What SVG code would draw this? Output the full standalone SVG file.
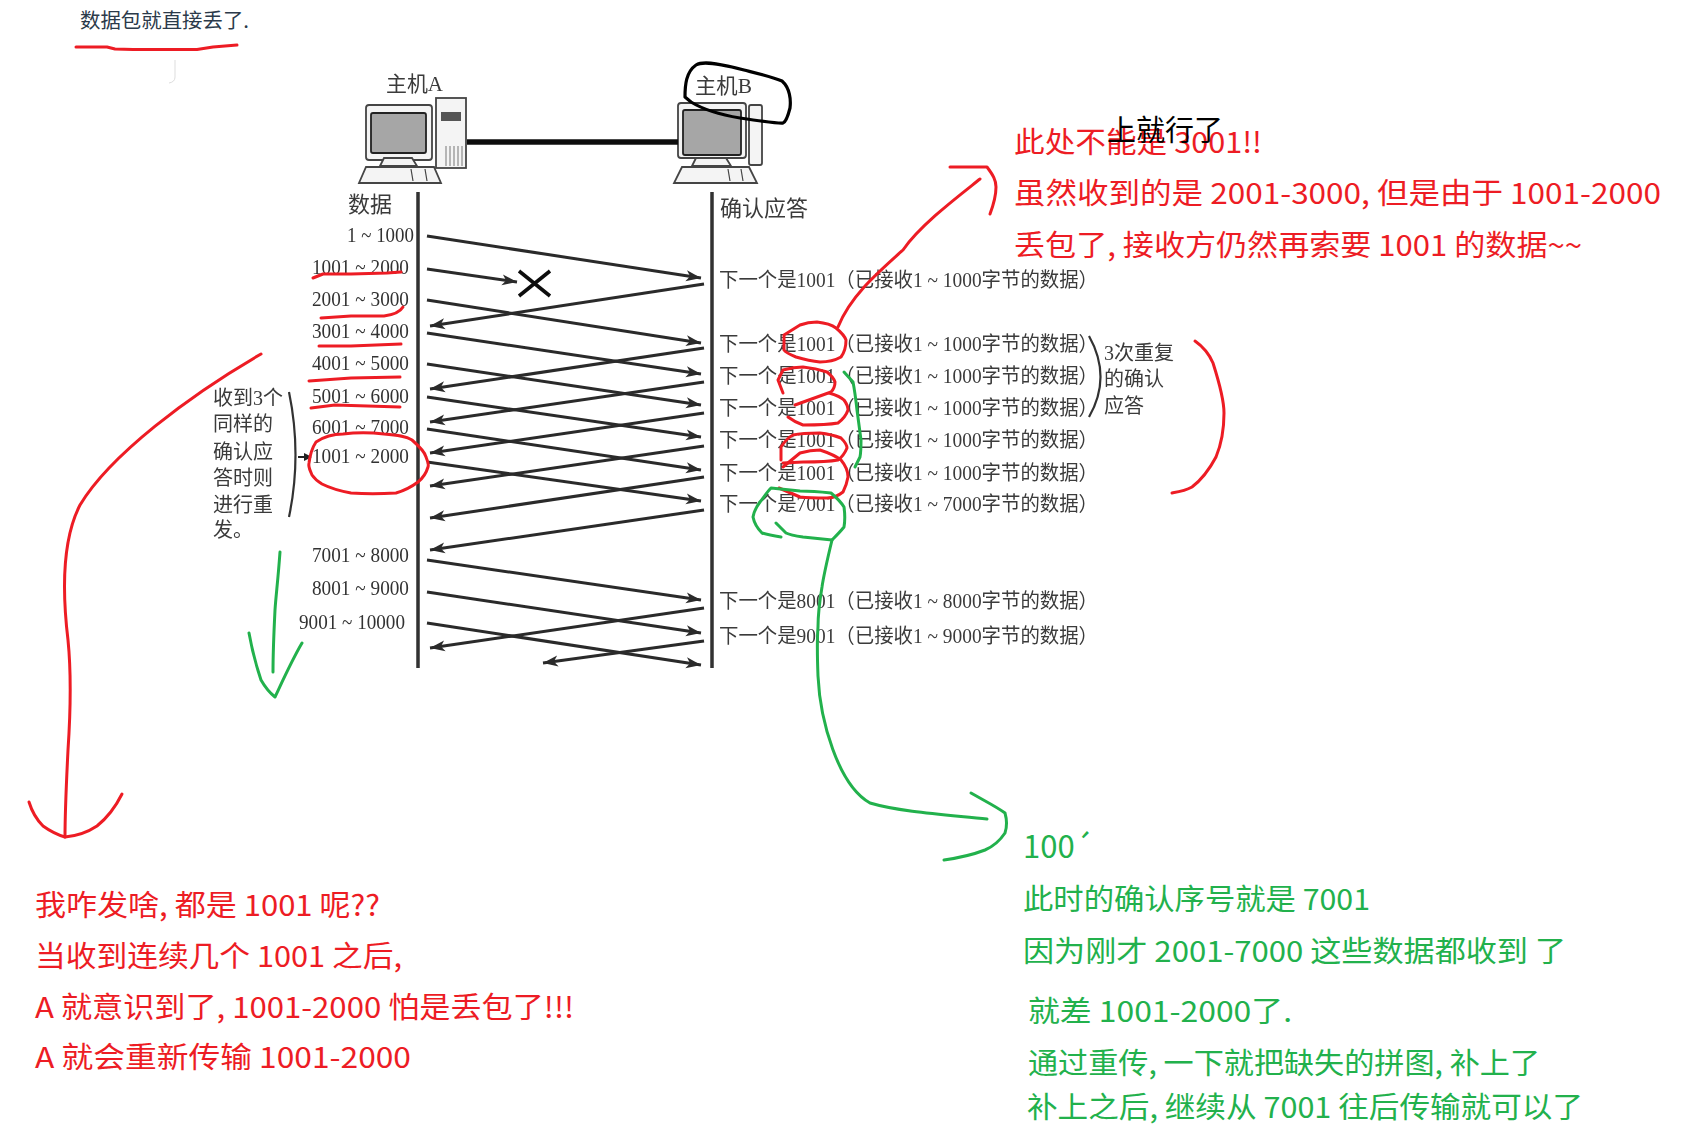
<svg xmlns="http://www.w3.org/2000/svg" width="1683" height="1139" viewBox="0 0 1683 1139">
<style>
text{font-family:"Liberation Serif","Noto Sans CJK SC",serif}
.bk{fill:#333;font-size:21px}
.h{fill:#3a3a3a;font-size:20px}
.ar{fill:#3a3a3a;font-size:20px;white-space:pre}
.note{font-family:"Noto Sans CJK SC","Noto Sans",sans-serif;font-size:29px;white-space:pre}
.r{fill:#ed1c24}.g{fill:#22b14c}
.rs,.gs,.ks{fill:none;stroke-linecap:round;stroke-linejoin:round;stroke-width:3}
.rs{stroke:#ed1c24}.gs{stroke:#22b14c}.ks{stroke:#000;stroke-width:3.2}
.ax{stroke:#333;stroke-width:3.5;fill:none}
.f{stroke:#2a2a2a;stroke-width:3;fill:none;marker-end:url(#ah)}
.mon{fill:#f4f4f4;stroke:#444;stroke-width:1.8}
.scr{fill:#a6a6a6;stroke:#222;stroke-width:1.8}
</style>
<defs>
<filter id="b" x="-5%" y="-5%" width="110%" height="110%"><feGaussianBlur stdDeviation="0.55"/></filter>
<marker id="ah" markerUnits="userSpaceOnUse" markerWidth="16" markerHeight="12" refX="15" refY="6" orient="auto"><path d="M15 6 0 0.5 4 6 0 11.5Z" fill="#2a2a2a"/></marker>
</defs>
<g filter="url(#b)">
<g id="hostA">
<rect class="mon" x="436" y="98" width="30" height="70"/>
<rect x="441" y="112" width="20" height="9" fill="#555"/>
<path d="M446 146V166M450 146V166M454 146V166M458 146V166M462 146V166" stroke="#777" stroke-width="1"/>
<rect class="mon" x="366" y="105" width="66" height="55" rx="3"/>
<rect class="scr" x="371" y="113" width="55" height="40" rx="2"/>
<path class="mon" d="M380 166 384 158H412L417 166Z"/>
<path class="mon" d="M366 167H434L441 183H359Z"/>
<path d="M411 169 413 181M425 169 427 181" stroke="#444" stroke-width="1.2"/>
<text class="h" x="386" y="91" style="font-size:21px" textLength="57" lengthAdjust="spacingAndGlyphs">主机A</text>
</g>
<g id="hostB">
<rect class="mon" x="749" y="105" width="13" height="60" rx="2"/>
<rect class="mon" x="678" y="103" width="68" height="55" rx="3"/>
<rect class="scr" x="683" y="110" width="58" height="45" rx="2"/>
<path class="mon" d="M692 166 696 158H726L731 166Z"/>
<path class="mon" d="M682 167H749L757 183H674Z"/>
<path d="M728 169 730 181M741 169 743 181" stroke="#444" stroke-width="1.2"/>
<text class="h" x="695" y="93" style="font-size:21px" textLength="57" lengthAdjust="spacingAndGlyphs">主机B</text>
</g>
<g id="axes">
<path d="M467 142H678" stroke="#111" stroke-width="5.5"/>
<path class="ax" d="M418 192V668M712 192V668"/>
<text class="h" x="348" y="212" style="font-size:22px">数据</text>
<text class="h" x="720" y="216" style="font-size:22px">确认应答</text>
</g>
<g id="data-labels" class="bk">
<text x="347" y="242" textLength="67" lengthAdjust="spacingAndGlyphs">1 ~ 1000</text>
<text x="312" y="274" textLength="97" lengthAdjust="spacingAndGlyphs">1001 ~ 2000</text>
<text x="312" y="306" textLength="97" lengthAdjust="spacingAndGlyphs">2001 ~ 3000</text>
<text x="312" y="338" textLength="97" lengthAdjust="spacingAndGlyphs">3001 ~ 4000</text>
<text x="312" y="370" textLength="97" lengthAdjust="spacingAndGlyphs">4001 ~ 5000</text>
<text x="312" y="403" textLength="97" lengthAdjust="spacingAndGlyphs">5001 ~ 6000</text>
<text x="312" y="434" textLength="97" lengthAdjust="spacingAndGlyphs">6001 ~ 7000</text>
<text x="312" y="463" textLength="97" lengthAdjust="spacingAndGlyphs">1001 ~ 2000</text>
<text x="312" y="562" textLength="97" lengthAdjust="spacingAndGlyphs">7001 ~ 8000</text>
<text x="312" y="595" textLength="97" lengthAdjust="spacingAndGlyphs">8001 ~ 9000</text>
<text x="299" y="629" textLength="106" lengthAdjust="spacingAndGlyphs">9001 ~ 10000</text>
</g>
<g id="ack-labels" class="ar">
<text x="719" y="287" textLength="379" lengthAdjust="spacingAndGlyphs">下一个是1001（已接收1 ~ 1000字节的数据）</text>
<text x="719" y="351" textLength="379" lengthAdjust="spacingAndGlyphs">下一个是1001（已接收1 ~ 1000字节的数据）</text>
<text x="719" y="383" textLength="379" lengthAdjust="spacingAndGlyphs">下一个是1001（已接收1 ~ 1000字节的数据）</text>
<text x="719" y="415" textLength="379" lengthAdjust="spacingAndGlyphs">下一个是1001（已接收1 ~ 1000字节的数据）</text>
<text x="719" y="447" textLength="379" lengthAdjust="spacingAndGlyphs">下一个是1001（已接收1 ~ 1000字节的数据）</text>
<text x="719" y="480" textLength="379" lengthAdjust="spacingAndGlyphs">下一个是1001（已接收1 ~ 1000字节的数据）</text>
<text x="719" y="511" textLength="379" lengthAdjust="spacingAndGlyphs">下一个是7001（已接收1 ~ 7000字节的数据）</text>
<text x="719" y="608" textLength="379" lengthAdjust="spacingAndGlyphs">下一个是8001（已接收1 ~ 8000字节的数据）</text>
<text x="719" y="643" textLength="379" lengthAdjust="spacingAndGlyphs">下一个是9001（已接收1 ~ 9000字节的数据）</text>
</g>
<g id="side-notes" class="h">
<text x="213" y="405">收到3个</text>
<text x="213" y="431">同样的</text>
<text x="213" y="459">确认应</text>
<text x="213" y="485">答时则</text>
<text x="213" y="512">进行重</text>
<text x="213" y="537">发。</text>
<path d="M289 392Q302 455 289 517" fill="none" stroke="#333" stroke-width="2.2"/>
<path d="M298 457H311" fill="none" stroke="#222" stroke-width="2"/>
<path d="M312 457 304 453V461Z" fill="#222"/>
<text x="1104" y="360">3次重复</text>
<text x="1104" y="386">的确认</text>
<text x="1104" y="413">应答</text>
<path d="M1089 336Q1112 377 1089 417" fill="none" stroke="#333" stroke-width="2.2"/>
</g>
<g id="connectors">
<path class="f" d="M427 236 701 278"/>
<path class="f" d="M427 269 517 282"/>
<path class="f" d="M427 300 701 343"/>
<path class="f" d="M427 333 701 374"/>
<path class="f" d="M427 364 701 405"/>
<path class="f" d="M427 397 701 437"/>
<path class="f" d="M427 429 701 470"/>
<path class="f" d="M427 462 701 501"/>
<path class="f" d="M427 560 701 600"/>
<path class="f" d="M427 592 701 633"/>
<path class="f" d="M427 623 701 665"/>
<path class="f" d="M704 284 430 326"/>
<path class="f" d="M704 348 430 389"/>
<path class="f" d="M704 382 430 422"/>
<path class="f" d="M704 413 430 453"/>
<path class="f" d="M704 446 430 486"/>
<path class="f" d="M704 477 430 518"/>
<path class="f" d="M704 510 430 550"/>
<path class="f" d="M704 608 430 648"/>
<path class="f" d="M704 641 543 663"/>
<path d="M519 271 550 296M550 271 519 296" stroke="#111" stroke-width="3.6" fill="none"/>
</g>
</g>
<g id="top-note">
<text x="80" y="28" font-size="20" fill="#2b3a4a" style="font-family:'Noto Sans CJK SC',sans-serif" textLength="169" lengthAdjust="spacingAndGlyphs">数据包就直接丢了.</text>
<path class="rs" d="M76 47 107 47 115 49 133 49.500 197 49.500 213 47 237 45"/>
<path d="M175 60V77Q175 82 169 83" fill="none" stroke="#ddd" stroke-width="1"/>
</g>
<g id="hand-marks">
<path class="ks" d="M685 97C685 85 686 72 696 65C704 60 725 65 744 70C760 74 773 77 782 81C790 88 791 100 790 108C788 116 786 122 783 123C780 124 760 121 740 118C722 115 704 110 691 102Z"/>
<path class="rs" d="M313 278 323 274 351 274 387 273 401 272"/>
<path class="rs" d="M321 318 351 316 384 316C392 315 400 312 403 307"/>
<path class="rs" d="M319 346 351 346 401 344"/>
<path class="rs" d="M309 381 351 378 400 377"/>
<path class="rs" d="M311 408 335 405 400 407"/>
<path class="rs" d="M316 442C325 436 335 434 343 434C360 432 375 433 384 434C398 435 406 436 412 440C420 447 425 452 426 457C428 462 429 465 428 467C426 474 423 478 418 482C410 488 403 491 396 493C380 494 365 494 351 493C340 491 330 488 322 484C317 481 314 478 312 475C310 470 308 467 309 463C310 455 312 448 316 442Z"/>
<path class="rs" d="M261 354C190 395 110 455 80 505C62 540 62 590 68 640C72 680 70 720 68 750C66 790 65 815 65 837"/>
<path class="rs" d="M29 802C33 815 38 821 43 826C50 831 58 835 65 837C76 836 88 832 97 826C107 818 116 806 122 794"/>
<path class="rs" d="M838 327C850 297 875 275 903 250C920 225 960 195 980 179"/>
<path class="rs" d="M950 167H987C993 175 996 180 996 187C996 198 993 206 990 214"/>
<path class="rs" d="M1195 341C1205 348 1210 356 1213 363C1220 385 1224 400 1224 413C1224 430 1221 445 1216 457C1208 472 1200 481 1192 487C1185 491 1178 492 1172 493"/>
<path class="rs" d="M784 335 800 325C808 322 813 322 817 322 826 323 832 325 836 328 842 333 845 337 846 340 846 347 844 353 841 357 834 361 826 362 820 362 811 361 803 359 796 357 791 355 786 353 784 350Z"/>
<path class="rs" d="M783 393 778 380 783 370C790 368 797 367 803 367 813 368 821 370 827 372 832 376 834 379 835 382 835 386 833 390 831 392L795 405M829 393C836 395 841 397 844 400 847 404 848 407 848 410 846 416 842 420 838 423 827 425 814 425 803 425 797 423 792 420 788 417"/>
<path class="rs" d="M781 460 781 447C785 441 789 437 793 435 802 433 811 433 820 433 829 434 836 436 841 438 845 442 847 445 847 448 845 453 842 457 838 460 827 462 815 462 803 462L783 463"/>
<path class="rs" d="M783 467 800 453C807 451 814 450 820 450 829 453 836 456 841 460 846 466 848 472 848 477 847 483 845 488 843 492 838 496 832 498 827 498 818 498 809 498 800 497L779 488"/>
<path class="gs" d="M844 372 853 382C855 392 856 401 857 410L861 440C861 447 861 452 860 457L855 467"/>
<path class="gs" d="M781 537C774 536 768 535 762 533C757 528 754 522 753 517C754 511 757 506 760 502 764 497 767 492 771 488 780 489 790 490 800 491 812 491 822 492 831 493 837 498 841 502 844 507 845 514 845 521 844 527 840 532 836 536 832 540 822 539 812 538 803 537 796 536 790 535 786 533L776 523"/>
<path class="gs" d="M832 540C826 565 823 580 822 587C819 605 818 618 818 627 817 640 817 650 818 676C820 720 838 785 870 803C900 812 950 815 987 819"/>
<path class="gs" d="M971 793C985 801 997 807 1005 813C1007 820 1007 827 1005 833C999 842 992 847 985 850C972 855 958 858 944 860"/>
<path class="gs" d="M280 552C278 580 276 595 275 610C274 630 273 650 273 672"/>
<path class="gs" d="M249 633C252 650 256 665 261 680C265 687 270 693 275 697C283 680 292 660 302 643"/>
</g>
<g id="red-note-top">
<text class="note r" x="1014" y="153" textLength="248" lengthAdjust="spacingAndGlyphs">此处不能是 3001!!</text>
<text class="note r" x="1014" y="204" textLength="647" lengthAdjust="spacingAndGlyphs">虽然收到的是 2001-3000, 但是由于 1001-2000</text>
<text class="note r" x="1014" y="256" textLength="568" lengthAdjust="spacingAndGlyphs">丢包了, 接收方仍然再索要 1001 的数据~~</text>
</g>
<g id="black-note">
<text x="1107" y="141" font-size="29" fill="#000" style="font-family:'Noto Sans CJK SC',sans-serif">上就行了</text>
</g>
<g id="red-note-bottom">
<text class="note r" x="35" y="916" textLength="345" lengthAdjust="spacingAndGlyphs">我咋发啥, 都是 1001 呢??</text>
<text class="note r" x="35" y="967" textLength="367" lengthAdjust="spacingAndGlyphs">当收到连续几个 1001 之后,</text>
<text class="note r" x="35" y="1018" textLength="539" lengthAdjust="spacingAndGlyphs">A 就意识到了, 1001-2000 怕是丢包了!!!</text>
<text class="note r" x="35" y="1068" textLength="376" lengthAdjust="spacingAndGlyphs">A 就会重新传输 1001-2000</text>
</g>
<g id="green-note">
<text class="note g" x="1023" y="858" style="font-size:31px">100´</text>
<text class="note g" x="1023" y="910" textLength="347" lengthAdjust="spacingAndGlyphs">此时的确认序号就是 7001</text>
<text class="note g" x="1023" y="962" textLength="543" lengthAdjust="spacingAndGlyphs">因为刚才 2001-7000 这些数据都收到 了</text>
<text class="note g" x="1028" y="1022" textLength="264" lengthAdjust="spacingAndGlyphs">就差 1001-2000了.</text>
<text class="note g" x="1028" y="1074" textLength="512" lengthAdjust="spacingAndGlyphs">通过重传, 一下就把缺失的拼图, 补上了</text>
<text class="note g" x="1027" y="1118" textLength="556" lengthAdjust="spacingAndGlyphs">补上之后, 继续从 7001 往后传输就可以了</text>
</g>
</svg>
